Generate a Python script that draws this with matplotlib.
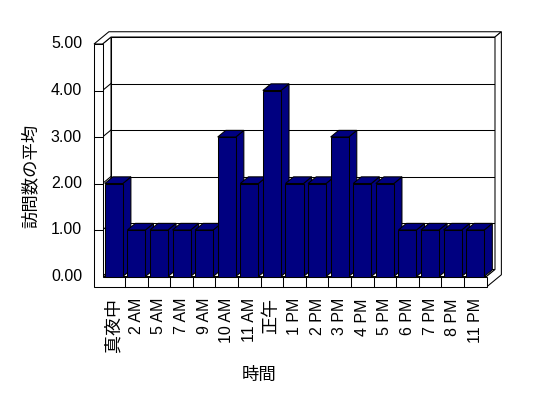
import matplotlib
matplotlib.use('Agg')
import matplotlib.pyplot as plt
from matplotlib.patches import Polygon
from matplotlib.transforms import offset_copy

plt.rcParams['font.family'] = ['Liberation Sans', 'Noto Sans CJK JP']

hours = ['真夜中', '2 AM', '5 AM', '7 AM', '9 AM', '10 AM', '11 AM', '正午',
         '1 PM', '2 PM', '3 PM', '4 PM', '5 PM', '6 PM', '7 PM', '8 PM', '11 PM']
visits = [2, 1, 1, 1, 1, 3, 2, 4, 2, 2, 3, 2, 2, 1, 1, 1, 1]
yticks = [0, 1, 2, 3, 4, 5]

BAR_COLOR = '#000080'
DX, DY = 8.5, 7.0      # pixel offset of one unit of depth
WALL = 0.376           # left wall thickness (category units)
FLOOR = 0.226          # floor thickness (value units)
BACK = 1.75            # outer depth of the box
BAR_W = 0.4
BAR_D = 0.95
LW = 0.75

fig = plt.figure(figsize=(5.48, 3.98), dpi=100)
ax = fig.add_axes([102.5 / 548, 121.5 / 398, 384 / 548, 232.5 / 398])
n = len(hours)
x0, x1 = -0.5, n - 0.5
vmax = yticks[-1]
ax.set_xlim(x0, x1)
ax.set_ylim(0, vmax)
ax.axis('off')


def P(x, v, z):
    X, Y = ax.transData.transform((x, v))
    return (X + DX * z, Y + DY * z)


def face(pts, fc='white', z=1):
    poly = Polygon([P(*p) for p in pts], closed=True, facecolor=fc,
                   edgecolor='black', linewidth=LW, transform=None,
                   clip_on=False, zorder=z)
    fig.add_artist(poly)


def line(a, b, z=1.5):
    pa, pb = P(*a), P(*b)
    fig.add_artist(plt.Line2D([pa[0], pb[0]], [pa[1], pb[1]], color='black',
                              linewidth=LW, transform=None, zorder=z))


# back wall and left wall inner face
face([(x0, 0, 1), (x1, 0, 1), (x1, vmax, 1), (x0, vmax, 1)])
face([(x0, 0, 0), (x0, vmax, 0), (x0, vmax, 1), (x0, 0, 1)])
# floor top
face([(x0, 0, 0), (x1, 0, 0), (x1, 0, 1), (x0, 0, 1)])
# gridlines
for v in yticks[1:-1]:
    line((x0, v, 1), (x1, v, 1))
    line((x0, v, 0), (x0, v, 1))
    line((x0 - WALL, v, 0), (x0, v, 0), z=3)
# top of walls
face([(x0 - WALL, vmax, 0), (x0, vmax, 0), (x0, vmax, 1), (x1, vmax, 1),
      (x1, vmax, BACK), (x0 - WALL, vmax, BACK)], z=2)
# right side of floor + back wall
face([(x1, -FLOOR, 0), (x1, 0, 0), (x1, 0, 1), (x1, vmax, 1),
      (x1, vmax, BACK), (x1, -FLOOR, BACK)], z=2)
# front face of left wall + floor
face([(x0 - WALL, -FLOOR, 0), (x1, -FLOOR, 0), (x1, 0, 0), (x0, 0, 0),
      (x0, vmax, 0), (x0 - WALL, vmax, 0)], z=2)
for k in range(1, n):
    line((k - 0.5, -FLOOR, 0), (k - 0.5, 0, 0), z=3)

# bars
for i, val in enumerate(visits):
    zb = 10 + i
    a, b = i - BAR_W, i + BAR_W
    face([(b, 0, 0), (b, 0, BAR_D), (b, val, BAR_D), (b, val, 0)], fc=BAR_COLOR, z=zb)
    face([(a, val, 0), (b, val, 0), (b, val, BAR_D), (a, val, BAR_D)], fc=BAR_COLOR, z=zb)
    face([(a, 0, 0), (b, 0, 0), (b, val, 0), (a, val, 0)], fc=BAR_COLOR, z=zb)

# tick labels
ytrans = offset_copy(ax.transData, fig=fig, x=-20.5, y=0, units='dots')
for v in yticks:
    ax.text(x0, v, f'{v:.2f}', transform=ytrans, ha='right', va='center',
            fontsize=11.5, clip_on=False)
xtrans = offset_copy(ax.transData, fig=fig, x=0, y=-21.5, units='dots')
for i, h in enumerate(hours):
    size = 11.5 if h.isascii() else 13
    ax.text(i, 0, h, transform=xtrans, rotation=90, ha='center', va='top',
            fontsize=size, clip_on=False)

fig.text(30 / 548, 222 / 398, '訪問数の平均', rotation=90, ha='center',
         va='center', fontsize=12.5)
fig.text(259 / 548, 23 / 398, '時間', ha='center', va='center', fontsize=12.5)

fig.savefig('out.png', dpi=100)
